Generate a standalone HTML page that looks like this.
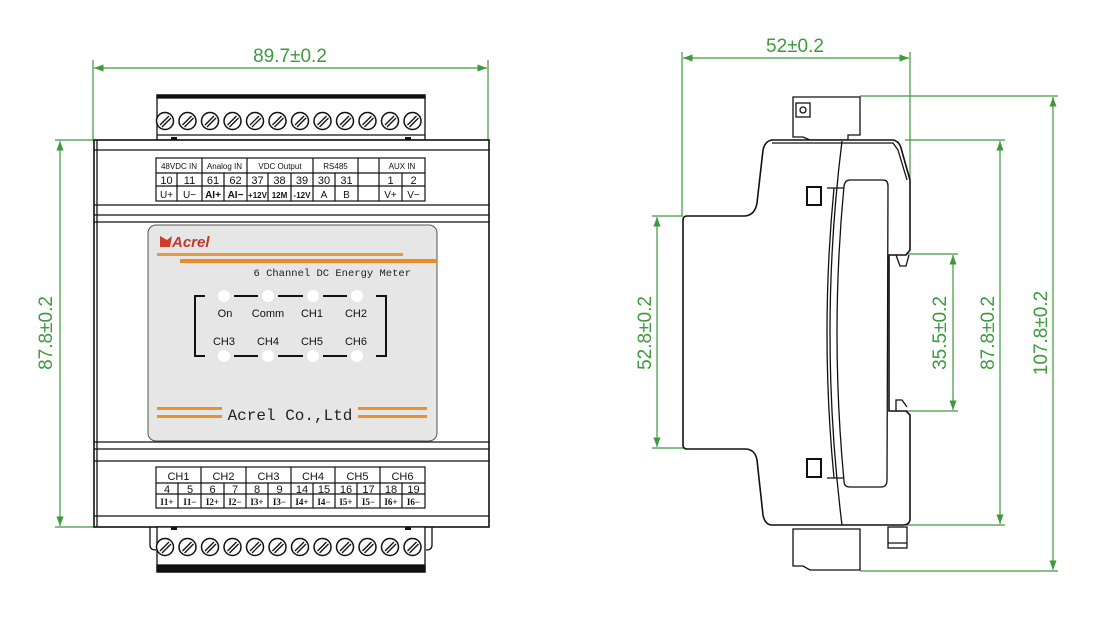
<!DOCTYPE html>
<html><head><meta charset="utf-8"><style>
html,body{margin:0;padding:0;background:#fff;width:1100px;height:627px;overflow:hidden}
svg{display:block}
.g{fill:#3d9a3d;font-family:"Liberation Sans",sans-serif;font-size:19px}
.t{font-family:"Liberation Sans",sans-serif;fill:#111}
</style></head><body>
<svg width="1100" height="627" viewBox="0 0 1100 627" xmlns="http://www.w3.org/2000/svg">
<defs>
<g id="sc"><circle r="8.5" fill="#fff" stroke="#111" stroke-width="1.5"/><line x1="-5" y1="4" x2="4" y2="-5" stroke="#111" stroke-width="1.3"/><line x1="-3" y1="6" x2="6" y2="-3" stroke="#111" stroke-width="1.3"/></g>
<marker id="a" markerWidth="8" markerHeight="6" refX="8" refY="3" orient="auto-start-reverse"><path d="M0,0 L8,3 L0,6z" fill="#3d9a3d"/></marker>
</defs>
<g stroke="#3d9a3d" stroke-width="1.2" fill="none">
<!-- left view dims -->
<line x1="93" y1="60" x2="93" y2="140"/><line x1="488" y1="60" x2="488" y2="140"/>
<line x1="94" y1="68" x2="487" y2="68" marker-start="url(#a)" marker-end="url(#a)"/>
<line x1="55" y1="140" x2="94" y2="140"/><line x1="55" y1="527" x2="94" y2="527"/>
<line x1="60" y1="141" x2="60" y2="526" marker-start="url(#a)" marker-end="url(#a)"/>
<!-- right view dims -->
<line x1="682" y1="52" x2="682" y2="216"/><line x1="910" y1="52" x2="910" y2="180"/>
<line x1="683" y1="58" x2="909" y2="58" marker-start="url(#a)" marker-end="url(#a)"/>
<line x1="652" y1="216" x2="683" y2="216"/><line x1="652" y1="448" x2="683" y2="448"/>
<line x1="657" y1="217" x2="657" y2="447" marker-start="url(#a)" marker-end="url(#a)"/>
<line x1="860" y1="96" x2="1058" y2="96"/><line x1="860" y1="571" x2="1058" y2="571"/>
<line x1="1053" y1="97" x2="1053" y2="570" marker-start="url(#a)" marker-end="url(#a)"/>
<line x1="905" y1="140" x2="1005" y2="140"/><line x1="905" y1="525" x2="1005" y2="525"/>
<line x1="1000" y1="141" x2="1000" y2="524" marker-start="url(#a)" marker-end="url(#a)"/>
<line x1="905" y1="254" x2="958" y2="254"/><line x1="905" y1="411" x2="958" y2="411"/>
<line x1="953" y1="255" x2="953" y2="410" marker-start="url(#a)" marker-end="url(#a)"/>
</g>
<text class="g" x="290" y="62" text-anchor="middle">89.7±0.2</text>
<text class="g" x="795" y="52" text-anchor="middle">52±0.2</text>
<text class="g" transform="translate(52,333) rotate(-90)" text-anchor="middle">87.8±0.2</text>
<text class="g" transform="translate(651,333) rotate(-90)" text-anchor="middle">52.8±0.2</text>
<text class="g" transform="translate(946,333) rotate(-90)" text-anchor="middle">35.5±0.2</text>
<text class="g" transform="translate(994,333) rotate(-90)" text-anchor="middle">87.8±0.2</text>
<text class="g" transform="translate(1047,333) rotate(-90)" text-anchor="middle">107.8±0.2</text>

<!-- LEFT VIEW -->
<g stroke="#111" stroke-width="1.3" fill="none">
<rect x="157" y="95" width="268" height="45" fill="#fff"/>
<rect x="157" y="95" width="268" height="3" fill="#111"/>
<line x1="157" y1="135" x2="425" y2="135"/>
<rect x="94" y="140" width="395" height="387" fill="#fff" stroke-width="1.6"/>
<line x1="97" y1="140" x2="97" y2="527"/>
<line x1="94" y1="150" x2="489" y2="150"/>
<line x1="94" y1="205" x2="489" y2="205"/>
<line x1="94" y1="215" x2="489" y2="215"/>
<line x1="94" y1="222" x2="489" y2="222"/>
<line x1="94" y1="442" x2="489" y2="442"/>
<line x1="94" y1="449" x2="489" y2="449"/>
<line x1="94" y1="461" x2="489" y2="461"/>
<line x1="94" y1="516" x2="489" y2="516"/>
<!-- bottom terminal -->
<path d="M150,527 V545 Q150,550 156,550 M432,527 V545 Q432,550 426,550"/>
<rect x="157" y="527" width="268" height="45" fill="#fff"/>
<rect x="157" y="565" width="268" height="7" fill="#111"/>
</g>
<rect x="171" y="137" width="6" height="3" fill="#111"/><rect x="405" y="137" width="6" height="3" fill="#111"/>
<rect x="171" y="527" width="6" height="3" fill="#111"/><rect x="405" y="527" width="6" height="3" fill="#111"/>
<g transform="translate(0,121)">
<use href="#sc" x="165"/><use href="#sc" x="187.5"/><use href="#sc" x="210"/><use href="#sc" x="232.5"/><use href="#sc" x="255"/><use href="#sc" x="277.5"/><use href="#sc" x="300"/><use href="#sc" x="322.5"/><use href="#sc" x="345"/><use href="#sc" x="367.5"/><use href="#sc" x="390"/><use href="#sc" x="412.5"/>
</g>
<g transform="translate(0,547)">
<use href="#sc" x="165"/><use href="#sc" x="187.5"/><use href="#sc" x="210"/><use href="#sc" x="232.5"/><use href="#sc" x="255"/><use href="#sc" x="277.5"/><use href="#sc" x="300"/><use href="#sc" x="322.5"/><use href="#sc" x="345"/><use href="#sc" x="367.5"/><use href="#sc" x="390"/><use href="#sc" x="412.5"/>
</g>

<!-- top table -->
<g stroke="#111" stroke-width="1.2" fill="none">
<rect x="156" y="158" width="269" height="43"/>
<line x1="156" y1="173" x2="425" y2="173"/><line x1="156" y1="186" x2="425" y2="186"/>
<line x1="202" y1="158" x2="202" y2="201"/><line x1="247" y1="158" x2="247" y2="201"/><line x1="313" y1="158" x2="313" y2="201"/><line x1="358" y1="158" x2="358" y2="201"/><line x1="379" y1="158" x2="379" y2="201"/>
<line x1="177" y1="173" x2="177" y2="201"/><line x1="224" y1="173" x2="224" y2="201"/><line x1="268" y1="173" x2="268" y2="201"/><line x1="291" y1="173" x2="291" y2="201"/><line x1="335" y1="173" x2="335" y2="201"/><line x1="402" y1="173" x2="402" y2="201"/>
</g>
<g class="t" font-size="8" text-anchor="middle">
<text x="179" y="169">48VDC IN</text><text x="224.5" y="169">Analog IN</text><text x="280" y="169">VDC Output</text><text x="335.5" y="169">RS485</text><text x="402" y="169">AUX IN</text>
</g>
<g class="t" font-size="11" text-anchor="middle">
<text x="166.5" y="184">10</text><text x="189.5" y="184">11</text><text x="213" y="184">61</text><text x="235.5" y="184">62</text><text x="257.5" y="184">37</text><text x="279.5" y="184">38</text><text x="302" y="184">39</text><text x="324" y="184">30</text><text x="346.5" y="184">31</text><text x="390.5" y="184">1</text><text x="413.5" y="184">2</text>
<g font-size="10"><text x="166.5" y="198">U+</text><text x="189.5" y="198">U−</text><text x="213" y="198" font-weight="bold">AI+</text><text x="235.5" y="198" font-weight="bold">AI−</text><text x="257.5" y="198" font-weight="bold" font-size="8">+12V</text><text x="279.5" y="198" font-weight="bold" font-size="8">12M</text><text x="302" y="198" font-weight="bold" font-size="8">-12V</text><text x="324" y="198">A</text><text x="346.5" y="198">B</text><text x="390.5" y="198">V+</text><text x="413.5" y="198">V−</text></g>
</g>
<!-- bottom table -->
<g stroke="#111" stroke-width="1.2" fill="none">
<rect x="156" y="467" width="269" height="41"/>
<line x1="156" y1="483" x2="425" y2="483"/><line x1="156" y1="494" x2="425" y2="494"/>
<line x1="201" y1="467" x2="201" y2="508"/><line x1="246" y1="467" x2="246" y2="508"/><line x1="291" y1="467" x2="291" y2="508"/><line x1="335" y1="467" x2="335" y2="508"/><line x1="380" y1="467" x2="380" y2="508"/>
<line x1="178" y1="483" x2="178" y2="508"/><line x1="224" y1="483" x2="224" y2="508"/><line x1="268" y1="483" x2="268" y2="508"/><line x1="313" y1="483" x2="313" y2="508"/><line x1="357" y1="483" x2="357" y2="508"/><line x1="402" y1="483" x2="402" y2="508"/>
</g>
<g class="t" font-size="11" text-anchor="middle">
<text x="178.5" y="480">CH1</text><text x="223.5" y="480">CH2</text><text x="268.5" y="480">CH3</text><text x="313" y="480">CH4</text><text x="357.5" y="480">CH5</text><text x="402.5" y="480">CH6</text>
<text x="167" y="493">4</text><text x="190" y="493">5</text><text x="212.5" y="493">6</text><text x="235" y="493">7</text><text x="257" y="493">8</text><text x="279.5" y="493">9</text><text x="302" y="493">14</text><text x="324" y="493">15</text><text x="346" y="493">16</text><text x="368.5" y="493">17</text><text x="391" y="493">18</text><text x="413.5" y="493">19</text>
<g font-size="9" font-weight="bold" font-family="Liberation Serif,serif"><text x="167" y="505">I1+</text><text x="190" y="505">I1−</text><text x="212.5" y="505">I2+</text><text x="235" y="505">I2−</text><text x="257" y="505">I3+</text><text x="279.5" y="505">I3−</text><text x="302" y="505">I4+</text><text x="324" y="505">I4−</text><text x="346" y="505">I5+</text><text x="368.5" y="505">I5−</text><text x="391" y="505">I6+</text><text x="413.5" y="505">I6−</text></g>
</g>
<!-- faceplate -->
<rect x="148" y="225" width="289" height="216" rx="8" fill="#e6e6e6" stroke="#555" stroke-width="1"/>
<path d="M160,236 L167,240 L172,236 L170,247 L160,247z" fill="#d23a2a"/>
<text x="172" y="247" font-family="Liberation Sans,sans-serif" font-size="15" font-weight="bold" font-style="italic" fill="#c0392b">Acrel</text>
<rect x="157" y="253" width="246" height="3" fill="#e89a3a"/>
<rect x="180" y="259" width="257" height="4" fill="#e88a2a"/>
<text x="411" y="276" text-anchor="end" font-family="Liberation Mono,monospace" font-size="10.5" fill="#222">6 Channel DC Energy Meter</text>
<g stroke="#111" stroke-width="2" fill="none">
<path d="M205,296 H195 V356 H205"/><path d="M376,296 H386 V356 H376"/>
<path d="M234,296 H258 M278,296 H303 M323,296 H347" /><path d="M234,356 H258 M278,356 H303 M323,356 H347"/>
</g>
<g fill="#fff"><circle cx="224" cy="296" r="6"/><circle cx="268" cy="296" r="6"/><circle cx="313" cy="296" r="6"/><circle cx="357" cy="296" r="6"/><circle cx="224" cy="356" r="6"/><circle cx="268" cy="356" r="6"/><circle cx="313" cy="356" r="6"/><circle cx="357" cy="356" r="6"/></g>
<g class="t" font-size="11" text-anchor="middle"><text x="225" y="317">On</text><text x="268" y="317">Comm</text><text x="312" y="317">CH1</text><text x="356" y="317">CH2</text><text x="224" y="345">CH3</text><text x="268" y="345">CH4</text><text x="312" y="345">CH5</text><text x="356" y="345">CH6</text></g>
<g fill="#e8912e"><rect x="157" y="407" width="65" height="3"/><rect x="157" y="415" width="65" height="3"/><rect x="358" y="407" width="69" height="3"/><rect x="358" y="415" width="69" height="3"/></g>
<text x="290" y="420" text-anchor="middle" font-family="Liberation Mono,monospace" font-size="16" fill="#222">Acrel Co.,Ltd</text>

<!-- RIGHT VIEW -->
<g stroke="#111" stroke-width="1.3" fill="none">
<path d="M793,97 H860 V135 H848 V140 H810 L803,137 H793 Z" fill="#fff"/>
<rect x="796" y="103" width="14" height="14" fill="#fff"/><circle cx="803" cy="110" r="3"/>
<path d="M793,529 H860 V570 H810 L803,566 H793 Z" fill="#fff"/>
<path d="M687,216 H745 Q755,215 757,203 L763,150 Q765,141 772,140 H893 Q899,141 901,148 L910,180 V250 L906,255 H889 V411 H906 L910,415 V520 Q909,525 903,525 H772 Q765,525 763,515 L757,460 Q755,449 745,449 H687 Q683,449 683,445 V220 Q683,216 687,216 Z" stroke-width="1.6" fill="#fff"/>
<path d="M772,143 H893 L898,150 L907,180"/>
<path d="M842,141 Q818,333 842,525"/>
<path d="M834,188 Q820,333 834,478"/>
<path d="M850,180 H883 Q888,180 888,186 L887,480 Q887,487 881,487 H850 Q844,487 844,481 Q830,333 844,186 Q845,180 850,180 Z"/>
<path d="M827,188 H844 M827,478 H844"/>
<rect x="807" y="187" width="14" height="18" stroke-width="2"/>
<rect x="807" y="459" width="14" height="18" stroke-width="2"/>
<rect x="888" y="527" width="19" height="21"/><line x1="888" y1="543" x2="907" y2="543"/>
<path d="M896,255 L900,266 L906,266 L909,255"/>
<path d="M896,411 V400 L902,400 L907,407"/>
</g>
</svg>
</body></html>
